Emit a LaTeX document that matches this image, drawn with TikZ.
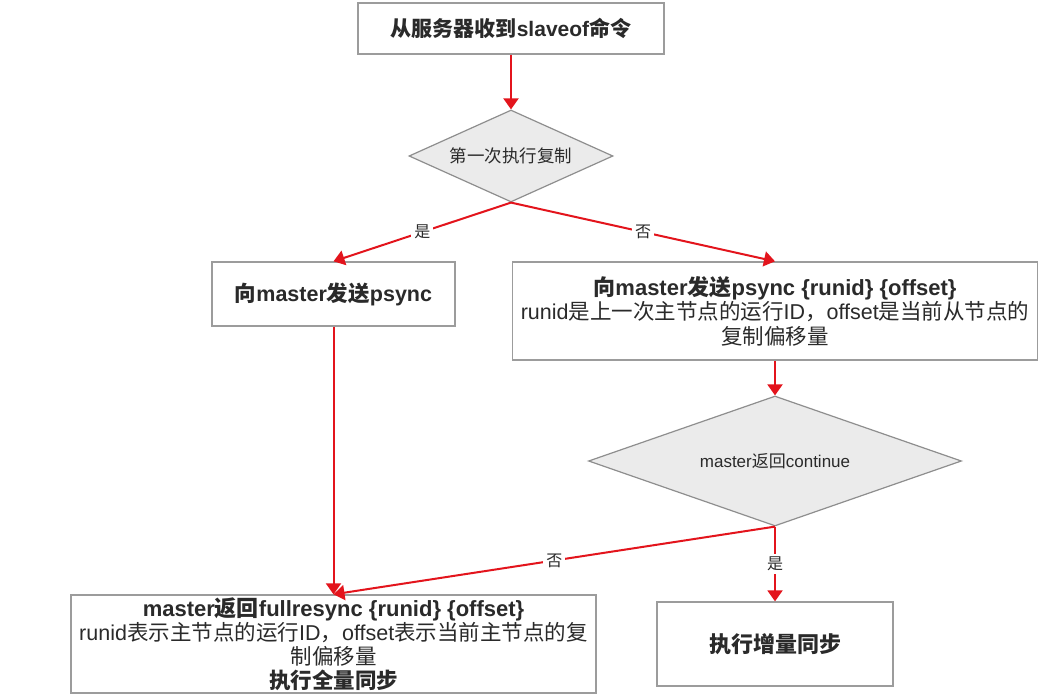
\documentclass[tikz,border=0pt]{standalone}
\usepackage{fontspec}
\setmainfont{Liberation Sans}
\newfontfamily\cjkfont{Noto Sans CJK SC}
\newcommand\zhs[1]{{\cjkfont #1}}
\usetikzlibrary{shapes.geometric,arrows.meta}
\definecolor{arrowred}{HTML}{E3141C}
\definecolor{boxgray}{HTML}{9C9C9C}
\definecolor{txt}{HTML}{2A2A2A}
\definecolor{dfill}{HTML}{EBEBEB}
\definecolor{dborder}{HTML}{8E8E8E}
\begin{document}
\begin{tikzpicture}[x=1pt,y=-1pt,
  box/.style={draw=boxgray,line width=1.3pt,fill=white,inner sep=0pt,align=center,text=txt},
  dec/.style={diamond,draw=dborder,line width=1.2pt,fill=dfill,inner sep=0pt,align=center,text=txt},
  flow/.style={draw=arrowred,line width=2pt,-{Triangle[length=11pt,width=15pt]}},
  lab/.style={fill=white,text=txt,inner sep=3pt,font={\cjkfont\fontsize{16pt}{19pt}\selectfont}}
]
\useasboundingbox (0,0) rectangle (1051,698);
\fill[white] (0,0) rectangle (1051,698);

\node[box,minimum width=306pt,minimum height=51pt,font={\bfseries\fontsize{21pt}{24pt}\selectfont}] (top) at (511,28.5)
  {\zhs{从服务器收到}slaveof\zhs{命令}};

\node[dec,aspect=2.9,minimum width=204pt,minimum height=92pt,font={\cjkfont\fontsize{17.5pt}{21pt}\selectfont}] (d1) at (511,156)
  {第一次执行复制};

\node[box,minimum width=243pt,minimum height=64pt,font={\bfseries\fontsize{21.5pt}{24pt}\selectfont}] (lbox) at (333.5,294)
  {\zhs{向}master\zhs{发送}psync};

\node[box,minimum width=525pt,minimum height=98pt,font={\fontsize{21.5pt}{24.5pt}\selectfont}] (rbox) at (775,311)
  {{\bfseries\fontsize{22pt}{24.5pt}\selectfont \zhs{向}master\zhs{发送}psync \{runid\} \{offset\}}\\
   runid\zhs{是上一次主节点的运行}ID\zhs{，}offset\zhs{是当前从节点的}\\
   \zhs{复制偏移量}};

\node[dec,aspect=3.6,minimum width=373pt,minimum height=130pt,font={\fontsize{17pt}{20pt}\selectfont}] (d2) at (775,461)
  {master\zhs{返回}continue};

\node[box,minimum width=525pt,minimum height=98pt,font={\fontsize{21.5pt}{24pt}\selectfont}] (bl) at (333.5,644)
  {{\bfseries\fontsize{22pt}{24pt}\selectfont master\zhs{返回}fullresync \{runid\} \{offset\}}\\
   runid\zhs{表示主节点的运行}ID\zhs{，}offset\zhs{表示当前主节点的复}\\
   \zhs{制偏移量}\\
   {\bfseries\zhs{执行全量同步}}};

\node[box,minimum width=236pt,minimum height=84pt,font={\bfseries\cjkfont\fontsize{22pt}{26pt}\selectfont}] (br) at (775,644)
  {执行增量同步};

\draw[flow] (top.south) -- (d1.north);
\draw[flow] (d1.south) -- node[lab]{是} (lbox.north);
\draw[flow] (d1.south) -- node[lab]{否} (rbox.north);
\draw[flow] (rbox.south) -- (d2.north);
\draw[flow] (lbox.south) -- (bl.north);
\draw[flow] (d2.south) -- node[lab]{否} (bl.north);
\draw[flow] (d2.south) -- node[lab]{是} (br.north);
\end{tikzpicture}
\end{document}
